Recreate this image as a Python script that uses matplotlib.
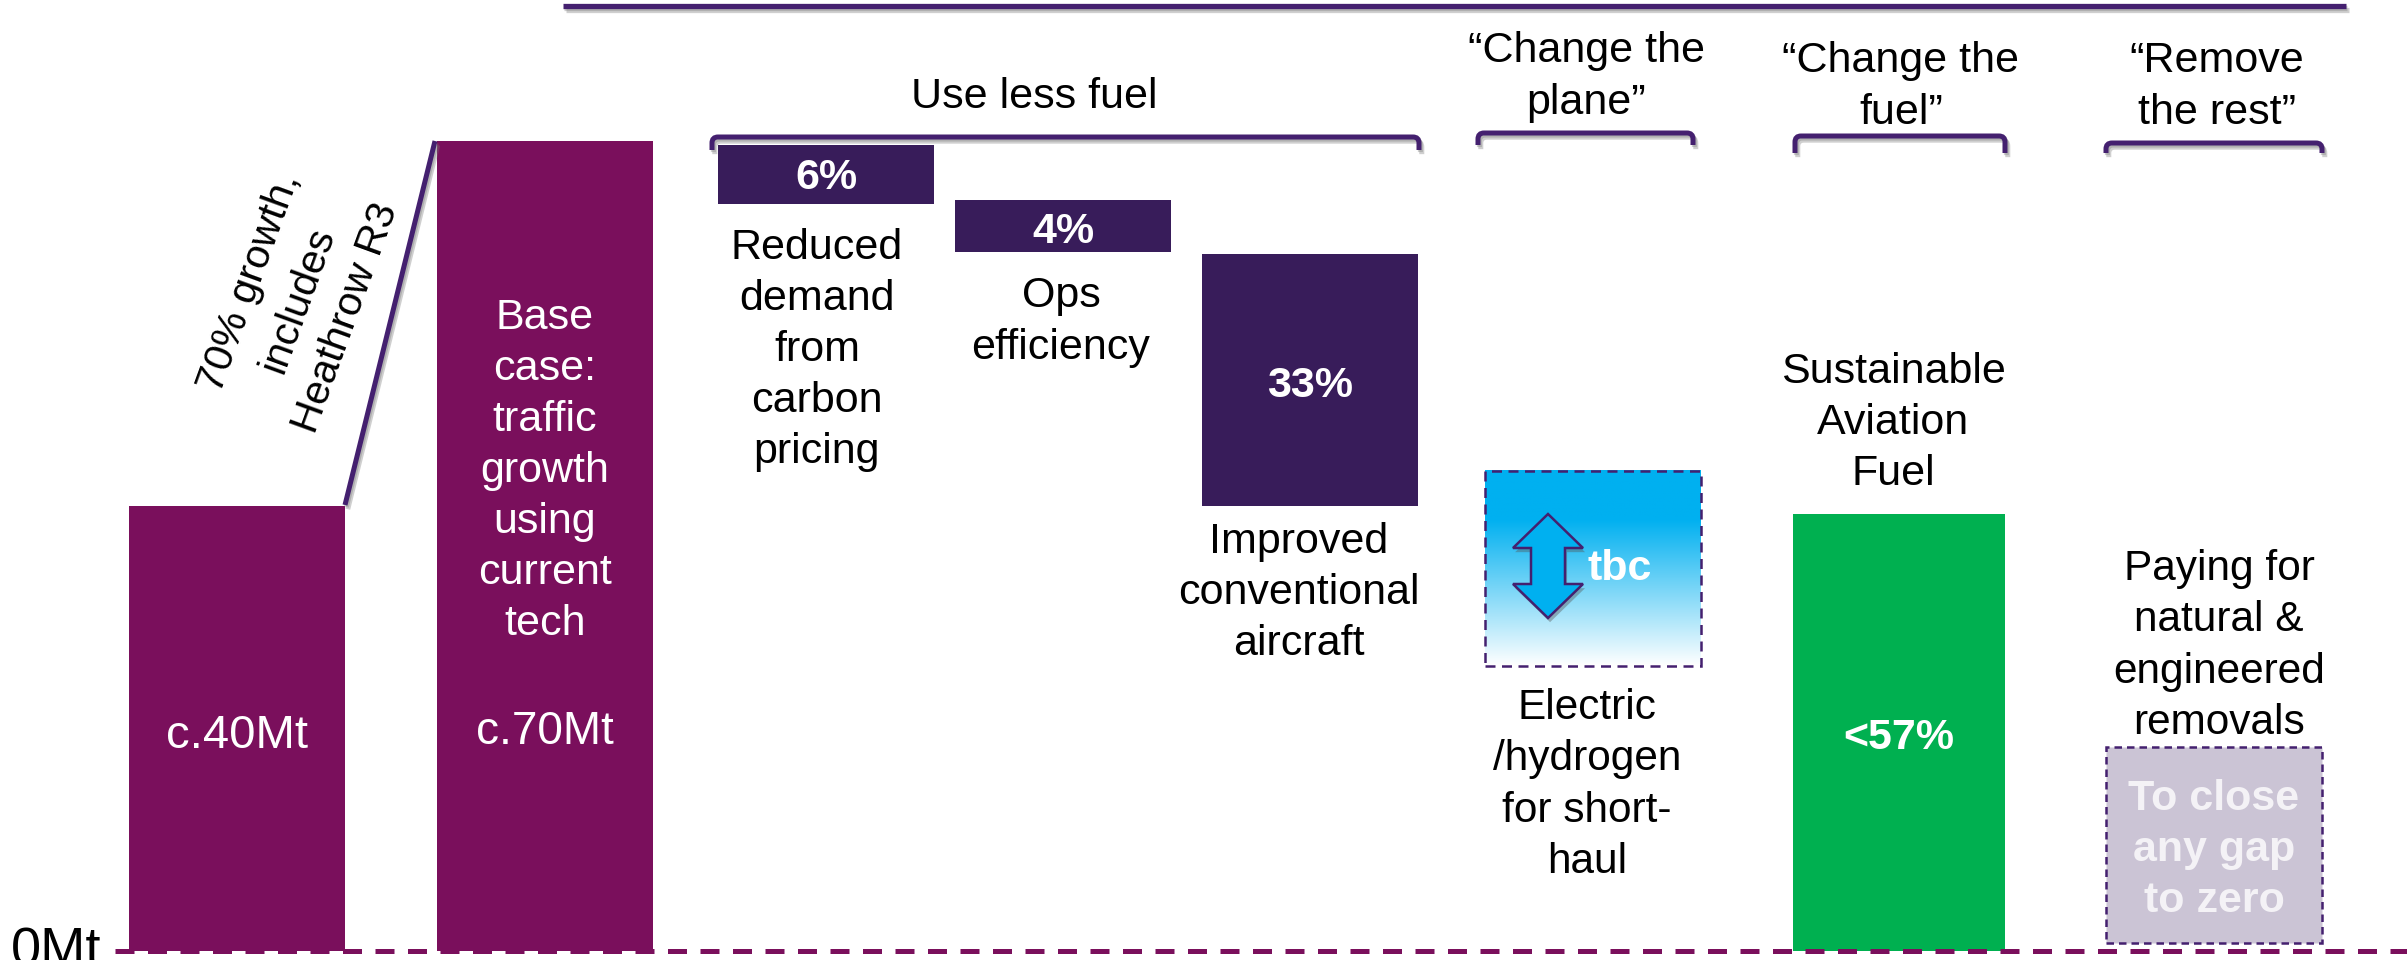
import matplotlib
matplotlib.use("Agg")
import matplotlib.pyplot as plt
import matplotlib.patheffects as pe
import numpy as np
from matplotlib.colors import LinearSegmentedColormap
from matplotlib.patches import PathPatch, Polygon, Rectangle
from matplotlib.path import Path

plt.rcParams["font.family"] = ["Liberation Sans", "DejaVu Sans"]

# values, in Mt above the dashed zero line
bar_labels = ["Base\ncase:\ntraffic\ngrowth\nusing\ncurrent\ntech", "6%", "4%", "33%", "<57%"]
bar_bottoms = [0, 0, 64.6, 60.4, 38.5, 0]
bar_tops = [38.5, 70, 69.7, 64.9, 60.2, 37.8]
tbc_range = [24.6, 41.5]
removal_range = [0.7, 17.6]

# layout, in pixels of the 2407x960 picture
bar_left = [129, 437, 718, 955, 1202, 1793]
bar_width = [216, 216, 216, 216, 216, 212]
bar_colors = ["#7A0F5C", "#7A0F5C", "#381C5A", "#381C5A", "#381C5A", "#00B050"]
bar_bold = [False, True, True, True, True]
PURPLE = "#44206F"
ZERO_Y = 951
PX_PER_MT = 11.57
SP = 1.36

fig = plt.figure(figsize=(24.07, 9.6), dpi=100)
ax = fig.add_axes([0, 0, 1, 1])
ax.set_xlim(0, 2407)
ax.set_ylim(-(960 - ZERO_Y) / PX_PER_MT, ZERO_Y / PX_PER_MT)
ax.axis("off")

# overlay in picture pixels for the notes and brackets
pix = fig.add_axes([0, 0, 1, 1], facecolor="none")
pix.set_xlim(0, 2407)
pix.set_ylim(960, 0)
pix.axis("off")

shadow = [pe.SimpleLineShadow(offset=(2, -3), shadow_color="#777777", alpha=0.35),
          pe.SimpleLineShadow(offset=(1, -1.5), shadow_color="#777777", alpha=0.35), pe.Normal()]


def note(x, y, s, color="black", size=31, bold=False, rot=0, sp=SP):
    pix.text(x, y, s, color=color, fontsize=size, ha="center", va="center", ma="center",
             fontweight="bold" if bold else "normal", rotation=rot, rotation_mode="anchor", linespacing=sp)


def bracket(x0, x1, y, y_end, r=6):
    verts = [(x0, y_end), (x0, y + r), (x0, y), (x0 + r, y), (x1 - r, y), (x1, y), (x1, y + r), (x1, y_end)]
    codes = [Path.MOVETO, Path.LINETO, Path.CURVE3, Path.CURVE3, Path.LINETO, Path.CURVE3, Path.CURVE3, Path.LINETO]
    pix.add_patch(PathPatch(Path(verts, codes), fill=False, edgecolor=PURPLE, lw=3.6,
                            capstyle="butt", path_effects=shadow))


ax.bar(bar_left, np.array(bar_tops) - np.array(bar_bottoms), width=bar_width, bottom=bar_bottoms,
       align="edge", color=bar_colors, linewidth=0, zorder=2)

# zero line
ax.plot([115, 2407], [0, 0], color="#7A0F5C", lw=3.6, dashes=(3.8, 2.7), dash_capstyle="butt", zorder=3)
note(56, 951, "0Mt", size=39)

# growth line
pix.plot([345, 435], [505, 141], color=PURPLE, lw=3.6, solid_capstyle="butt", path_effects=shadow)
note(298, 300, "70% growth,\nincludes\nHeathrow R3", rot=70, size=29.8, sp=1.45)

# top rule and brackets
pix.plot([563, 2346], [6, 6], color=PURPLE, lw=3.8, solid_capstyle="butt", path_effects=shadow)
bracket(712, 1419, 137, 150)
bracket(1478, 1693, 133, 145)
bracket(1795, 2005, 136, 153)
bracket(2106, 2322, 143, 153)

note(1034, 97, "Use less fuel")
note(1586, 77, "\u201cChange the\nplane\u201d")
note(1901, 87, "\u201cChange the\nfuel\u201d")
note(2217, 87, "\u201cRemove\nthe rest\u201d")

# text on the bars
cx = [l + w / 2 for l, w in zip(bar_left, bar_width)][1:]
bar_text_y = [471, 178, 232, 386, 738]
for x, y, s, b in zip(cx, bar_text_y, bar_labels, bar_bold):
    note(x, y, s, color="white", bold=b)
note(237, 736, "c.40Mt", color="white", size=34)
note(545, 732, "c.70Mt", color="white", size=33)

note(817, 350, "Reduced\ndemand\nfrom\ncarbon\npricing")
note(1061, 322, "Ops\nefficiency")
note(1299, 593, "Improved\nconventional\naircraft")
note(1587, 785, "Electric\n/hydrogen\nfor short-\nhaul", size=30.5)
note(1893, 423, "Sustainable\nAviation\nFuel")
note(2219, 646, "Paying for\nnatural &\nengineered\nremovals", size=30.5)

# tbc box, fades from blue to white
fade = LinearSegmentedColormap.from_list("fade", [(0, "#00B0F0"), (0.25, "#00B0F0"), (1, "#FFFFFF")])
ax.imshow(np.linspace(0, 1, 256)[:, None], cmap=fade, aspect="auto", zorder=1,
          extent=(1485, 1701, tbc_range[0], tbc_range[1]))
ax.set_xlim(0, 2407)
ax.set_ylim(-(960 - ZERO_Y) / PX_PER_MT, ZERO_Y / PX_PER_MT)
ax.add_patch(Rectangle((1485, tbc_range[0]), 216, tbc_range[1] - tbc_range[0], fill=False,
                       edgecolor=PURPLE, lw=1.8, ls=(0, (4, 2.6)), zorder=2))
arrow = Polygon([(1548, 514), (1583, 548), (1565, 548), (1565, 584), (1583, 584), (1548, 618),
                 (1513, 584), (1531, 584), (1531, 548), (1513, 548)],
                closed=True, facecolor="#00B0F0", edgecolor=PURPLE, lw=1.8,
                path_effects=[pe.SimplePatchShadow(offset=(1.5, -3), shadow_rgbFace="#555555", alpha=0.4), pe.Normal()])
pix.add_patch(arrow)
note(1620, 569, "tbc", color="white", bold=True)

# removals box
ax.add_patch(Rectangle((2106, removal_range[0]), 216, removal_range[1] - removal_range[0], facecolor="#CBC4D5",
                       edgecolor=PURPLE, lw=1.8, ls=(0, (3, 2)), zorder=2))
note(2214, 850, "To close\nany gap\nto zero", color="#F4F2F6", bold=True)

fig.savefig("out.png", dpi=100)
